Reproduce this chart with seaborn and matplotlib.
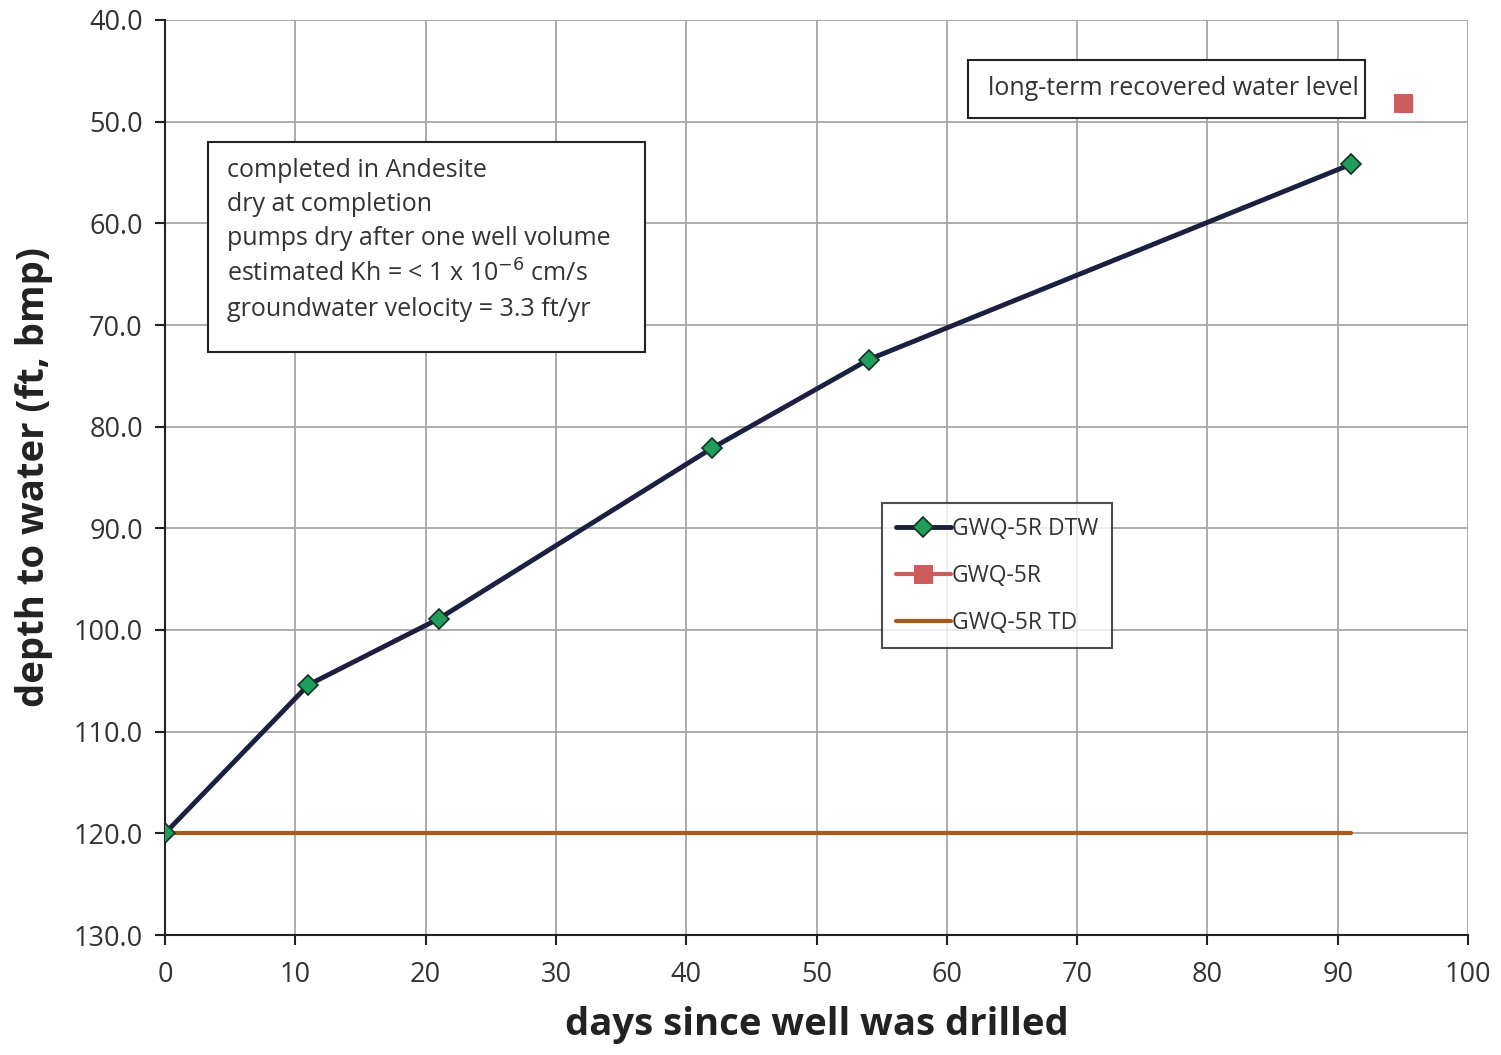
import matplotlib
matplotlib.use("Agg")
import matplotlib.pyplot as plt
from matplotlib.patches import Rectangle
import seaborn as sns
import pandas as pd

days = [0, 11, 21, 42, 54, 91]
dtw = [120.0, 105.4, 98.9, 82.1, 73.4, 54.2]
recovered_day = [95]
recovered_level = [48.2]
td_days = [0, 91]
td_level = [120.0, 120.0]

sns.set_style("white")
plt.rcParams['font.family'] = ['Open Sans', 'DejaVu Sans']

fig = plt.figure(figsize=(15.01, 10.55), dpi=100)
ax = fig.add_axes([165/1501, 1-935/1055, (1468-165)/1501, (935-20)/1055])

df_dtw = pd.DataFrame({"day": days, "depth": dtw})
df_rec = pd.DataFrame({"day": recovered_day, "depth": recovered_level})
df_td = pd.DataFrame({"day": td_days, "depth": td_level})

sns.lineplot(data=df_td, x="day", y="depth", ax=ax, color="#a85a1c", lw=3,
             label="GWQ-5R TD", zorder=3)
sns.lineplot(data=df_dtw, x="day", y="depth", ax=ax, color="#1b2041", lw=3.5,
             marker="D", markersize=10, markerfacecolor="#1e9e5a",
             markeredgecolor="#123322", markeredgewidth=1.2,
             label="GWQ-5R DTW", zorder=4)
sns.lineplot(data=df_rec, x="day", y="depth", ax=ax, color="#cd5c5c", lw=3,
             marker="s", markersize=13, markeredgecolor="#cd5c5c",
             label="GWQ-5R", zorder=4)

ax.set_xlim(0, 100)
ax.set_ylim(130, 40)
ax.set_xticks(range(0, 101, 10))
ax.set_yticks(range(40, 131, 10))
ax.set_yticklabels([f"{v:.1f}" for v in range(40, 131, 10)])
ax.grid(True, color="#a6a6a6", lw=1.3)
for s in ["top", "right"]:
    ax.spines[s].set_visible(False)
for s in ["left", "bottom"]:
    ax.spines[s].set_color("#222222")
    ax.spines[s].set_linewidth(1.5)
ax.tick_params(axis="both", direction="out", length=7, width=1.5, color="#222222",
               labelsize=19.5, labelcolor="#333333", left=True, bottom=True)
ax.tick_params(axis="x", pad=12)
ax.tick_params(axis="y", pad=9)
ax.set_xlabel("days since well was drilled", fontsize=27.5, fontweight="bold", color="#222222", labelpad=12)
ax.set_ylabel("depth to water (ft, bmp)", fontsize=27.5, fontweight="bold", color="#222222", labelpad=15)

handles, labels = ax.get_legend_handles_labels()
order = [labels.index("GWQ-5R DTW"), labels.index("GWQ-5R"), labels.index("GWQ-5R TD")]
leg = ax.legend([handles[i] for i in order], [labels[i] for i in order],
                loc="upper left", bbox_to_anchor=((882-165)/1303, 1-(503-20)/915),
                borderaxespad=0, fontsize=16.5, frameon=True, fancybox=False, edgecolor="#222222",
                handlelength=2.4, handletextpad=0.05, labelspacing=1.0, borderpad=0.6)
leg.get_frame().set_linewidth(1.5)
for t in leg.get_texts():
    t.set_color("#333333")

# annotation box
ax.add_patch(Rectangle((0.033, 0.6372), 0.3354, 0.2295, transform=ax.transAxes,
                       fc="white", ec="#222222", lw=1.5, zorder=6))
ax.text(0.0476, 0.8383 + 10/915, "completed in Andesite\ndry at completion\npumps dry after one well volume\n"
        "estimated Kh = < 1 x 10$^{-6}$ cm/s\ngroundwater velocity = 3.3 ft/yr",
        transform=ax.transAxes, fontsize=18, color="#333333", va="top", ha="left",
        linespacing=1.47, zorder=7)

ax.add_patch(Rectangle((0.6163, 0.8929), 0.3047, 0.0634, transform=ax.transAxes,
                       fc="white", ec="#222222", lw=1.5, zorder=6))
ax.text(0.6316, 0.9246, "long-term recovered water level", transform=ax.transAxes,
        fontsize=18, color="#333333", va="center", ha="left", zorder=7)

fig.savefig("out.png", dpi=100)
